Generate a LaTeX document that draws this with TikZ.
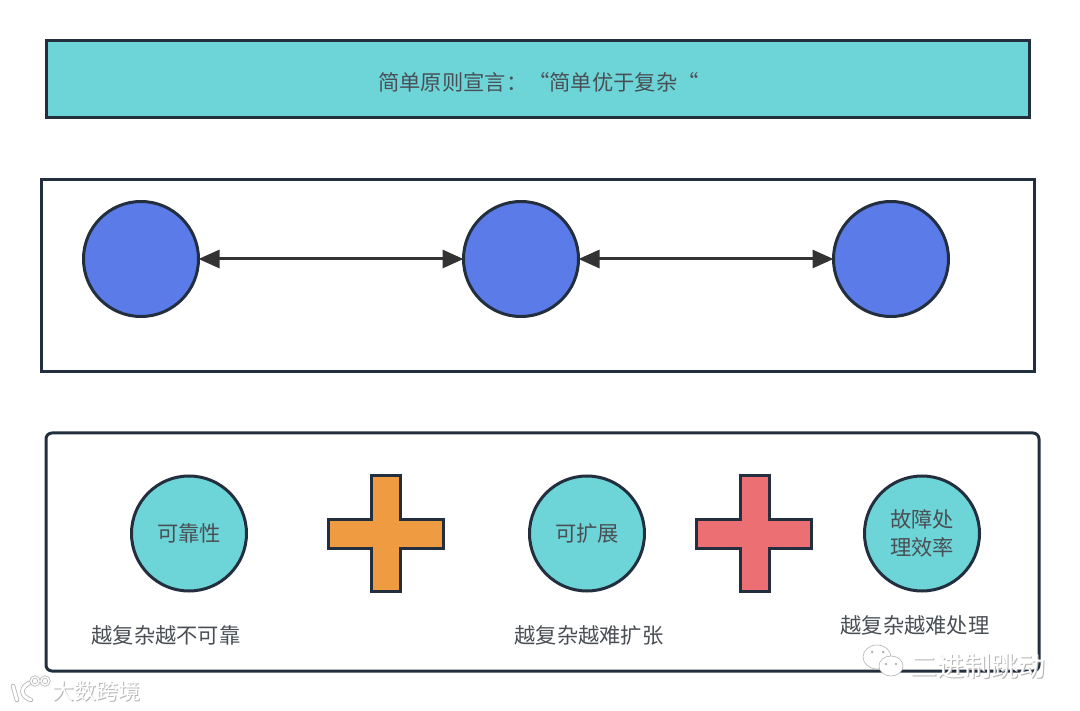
\documentclass[tikz,border=0pt]{standalone}
\usepackage{fontspec}
\setmainfont{Noto Sans CJK SC}
\usetikzlibrary{arrows.meta}
\definecolor{teal1}{HTML}{6DD5D8}
\definecolor{blue1}{HTML}{5A7BE8}
\definecolor{orange1}{HTML}{EF9B41}
\definecolor{red1}{HTML}{EC7073}
\definecolor{edge1}{HTML}{232F3E}
\definecolor{ink1}{HTML}{4A4F55}
\definecolor{shade1}{HTML}{B4B4B4}
\tikzset{
  x=1pt,y=-1pt,
  box/.style={draw=edge1,line width=3pt,inner sep=0pt,minimum height=0pt},
  ball/.style={circle,draw=edge1,line width=3pt,minimum size=115pt,inner sep=0pt,outer sep=0pt,align=center,text=ink1,font=\fontsize{21.3}{28}\selectfont},
  blueball/.style={ball,fill=blue1},
  tealball/.style={ball,fill=teal1},
  lbl/.style={text=ink1,font=\fontsize{21.3}{26}\selectfont,inner sep=0pt},
  link/.style={draw=black!80,line width=3pt,{Triangle[length=21pt,width=18pt]}-{Triangle[length=21pt,width=18pt]}},
  plus/.style={draw=edge1,line width=3pt,line join=miter},
  mark1/.style={font=\fontsize{22}{26}\selectfont,inner sep=0pt},
  logoS/.style={draw=shade1,line width=4.5pt,line cap=round},
  logoW/.style={draw=white,line width=3pt,line cap=round},
}
\begin{document}
\begin{tikzpicture}
\useasboundingbox (0,0) rectangle (1080,711);
\fill[white] (0,0) rectangle (1080,711);
% boxes
\draw[box,fill=teal1] (46,41) rectangle (1029,118);
\node[lbl,anchor=west] (title) at (378,82) {简单原则宣言：\hspace{1pt}“简单优于复杂“};
\draw[box] (41,180) rectangle (1034,372);
\draw[box,rounded corners=6pt] (46,433) rectangle (1039,671);
% top row
\node[blueball] (a) at (141,259) {};
\node[blueball] (b) at (521,259) {};
\node[blueball] (c) at (891,259) {};
\draw[link] (a) -- (b);
\draw[link] (b) -- (c);
% bottom row
\node[tealball] (k1) at (189,533.5) {\raisebox{-1pt}{可靠性}};
\node[tealball] (k2) at (587,533.5) {\raisebox{-1pt}{可扩展}};
\node[tealball] (k3) at (922,533.5) {故障处\\理效率};
\draw[plus,fill=orange1] (371.5,476)--(400.5,476)--(400.5,519)--(443.5,519)--(443.5,548)--(400.5,548)--(400.5,591)--(371.5,591)--(371.5,548)--(328.5,548)--(328.5,519)--(371.5,519)--cycle;
\draw[plus,fill=red1] (740.5,476)--(769.5,476)--(769.5,519)--(811.5,519)--(811.5,548)--(769.5,548)--(769.5,591)--(740.5,591)--(740.5,548)--(696.5,548)--(696.5,519)--(740.5,519)--cycle;
\node[lbl] (t1) at (166,635) {越复杂越不可靠};
\node[lbl] (t2) at (589,635) {越复杂越难扩张};
\node[lbl] (t3) at (915,625) {越复杂越难处理};
% watermarks
\node[mark1,text=shade1] (w1s) at (97.5,692.5) {大数跨境};
\node[mark1,text=white] (w1) at (96.5,691.5) {大数跨境};
\draw[logoS] (13,686)--(17,700);
\draw[logoS] (29,683) .. controls (20,688) and (20,696) .. (31,700);
\draw[logoS,line width=3pt] (35,681) circle (4) (45,681) circle (4);
\draw[logoW] (13,686)--(17,700);
\draw[logoW] (29,683) .. controls (20,688) and (20,696) .. (31,700);
\draw[logoW,line width=1.5pt] (35,681) circle (4) (45,681) circle (4);
\fill[white,draw=shade1,line width=.6pt] (877,657) ellipse (14 and 12);
\fill[white,draw=shade1,line width=.6pt] (891,666) ellipse (12 and 10);
\fill[shade1] (872,652) circle (1.5) (883,652) circle (1.5) (886,664) circle (1.3) (896,664) circle (1.3);
\node[mark1,text=shade1,font=\fontsize{27}{30}\selectfont] (w2s) at (978.5,667) {二进制跳动};
\node[mark1,text=white,font=\fontsize{27}{30}\selectfont] (w2) at (977.5,666) {二进制跳动};
\end{tikzpicture}
\end{document}
